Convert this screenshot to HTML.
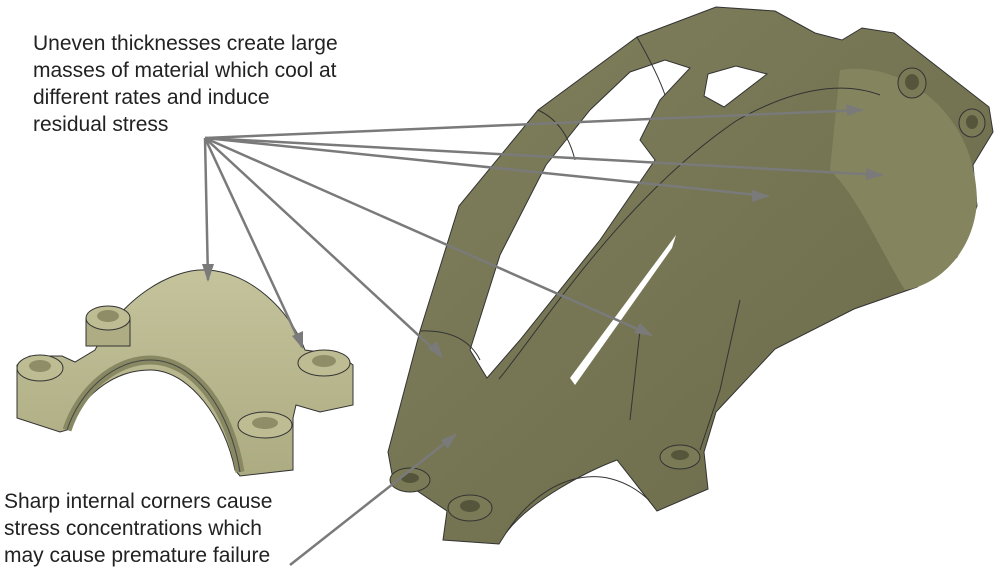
<!DOCTYPE html>
<html><head><style>
html,body{margin:0;padding:0;background:#fff;width:1000px;height:577px;overflow:hidden}
.t{position:absolute;font-family:"Liberation Sans",sans-serif;font-size:21px;line-height:27px;color:#222}
</style></head><body>
<svg width="1000" height="577" style="position:absolute;left:0;top:0">
<defs>
<linearGradient id="g1" x1="0" y1="0" x2="1" y2="1"><stop offset="0" stop-color="#80805d"/><stop offset="1" stop-color="#6a6a4a"/></linearGradient>
<linearGradient id="g2" x1="0" y1="0" x2="0" y2="1"><stop offset="0" stop-color="#c4c39b"/><stop offset="1" stop-color="#acab82"/></linearGradient>
</defs>
<path d="M388,452 L420,331 L459,206 L538,110 L637,37 L716,7 L775,11 L815,33 L842,40 L862,28 L894,33 L989,107 L993,132 L973,165 L977,206 L957,257 L917,287 L854,309 L775,349 L716,412 L704,452 L708,489 L657,511 L617,460 C590,470 530,500 506,533 L499,544 L443,540 L447,511 L392,474 Z" fill="url(#g1)" stroke="#333" stroke-width="1"/>
<path d="M840,70 C900,60 975,110 977,200 C975,250 940,285 905,290 C880,250 860,200 830,170 Z" fill="#84845f"/>
<path d="M487,378 L470,350 L500,255 L546,165 L590,110 L630,72 L665,60 L690,68 L660,100 L640,140 L655,160 L600,240 L520,340 Z" fill="#fff" stroke="#333"/>
<path d="M704,96 L708,74 L736,66 L767,74 L724,107 Z" fill="#fff" stroke="#333"/>
<path d="M570,378 L676,235 L672,248 L575,385 Z" fill="#fff"/>
<g fill="none" stroke="#333" stroke-width="1">
<path d="M420,331 C450,330 470,340 480,360"/><path d="M538,110 C560,120 570,140 575,160"/><path d="M637,37 C650,60 660,80 665,95"/>
<path d="M499,379 C540,330 620,200 736,121 C790,90 840,80 880,95"/>
<path d="M506,533 C540,480 600,455 649,500"/>
<path d="M740,300 L720,390 L700,450"/><path d="M640,330 L630,420"/>
</g>
<ellipse cx="410" cy="480" rx="20" ry="12" fill="#7a7a57" stroke="#333"/><ellipse cx="410" cy="478" rx="9" ry="5" fill="#55553b"/>
<ellipse cx="470" cy="508" rx="22" ry="13" fill="#7a7a57" stroke="#333"/><ellipse cx="470" cy="506" rx="10" ry="6" fill="#55553b"/>
<ellipse cx="680" cy="457" rx="20" ry="12" fill="#7a7a57" stroke="#333"/><ellipse cx="680" cy="455" rx="9" ry="5" fill="#55553b"/>
<ellipse cx="912" cy="83" rx="14" ry="15" fill="#7a7a57" stroke="#333"/><ellipse cx="912" cy="82" rx="7" ry="8" fill="#55553b"/>
<ellipse cx="972" cy="123" rx="13" ry="14" fill="#7a7a57" stroke="#333"/><ellipse cx="972" cy="122" rx="6" ry="7" fill="#55553b"/>
<path d="M17,365 L30,356 L62,356 L75,362 L95,350 C120,300 170,268 207,270 C250,272 290,310 305,350 L340,355 L353,365 L353,405 L320,412 L296,405 L293,418 L293,470 L240,476 L235,470 C225,420 190,370 150,370 C110,370 80,400 67,430 L60,432 L17,418 Z" fill="url(#g2)" stroke="#333"/>
<path d="M67,430 C80,390 115,360 150,360 C195,360 230,410 240,472" fill="none" stroke="#888863" stroke-width="9"/>
<path d="M67,430 C80,390 115,360 150,360 C195,360 230,410 240,472" fill="none" stroke="#444" stroke-width="1"/>
<rect x="86" y="318" width="44" height="28" fill="#adac83" stroke="#333"/>
<ellipse cx="108" cy="318" rx="22" ry="12" fill="#bdbc92" stroke="#333"/><ellipse cx="108" cy="316" rx="11" ry="6" fill="#8e8d67"/>
<ellipse cx="40" cy="368" rx="23" ry="13" fill="#bdbc92" stroke="#333"/><ellipse cx="40" cy="366" rx="11" ry="6" fill="#8e8d67"/>
<ellipse cx="324" cy="363" rx="26" ry="13" fill="#bdbc92" stroke="#333"/><ellipse cx="324" cy="361" rx="12" ry="6" fill="#8e8d67"/>
<ellipse cx="265" cy="425" rx="27" ry="13" fill="#bdbc92" stroke="#333"/><ellipse cx="265" cy="423" rx="13" ry="6" fill="#8e8d67"/>
<g stroke="#7a7a7a" stroke-width="2.5" fill="#7a7a7a">
<line x1="205" y1="138" x2="862" y2="110"/><line x1="205" y1="138" x2="882" y2="175"/><line x1="205" y1="138" x2="768" y2="196"/><line x1="205" y1="138" x2="651" y2="335"/><line x1="205" y1="138" x2="442" y2="357"/><line x1="205" y1="138" x2="302" y2="347"/><line x1="205" y1="138" x2="208" y2="280"/><line x1="290" y1="565" x2="455" y2="435"/>
</g>
<g fill="#7a7a7a">
<polygon points="864,110 846,104 847,116"/><polygon points="884,175 866,168 866,180"/><polygon points="770,196 752,190 752,202"/><polygon points="653,336 640,323 634,333"/><polygon points="443,358 437,341 428,349"/><polygon points="303,349 303,331 292,336"/><polygon points="208,282 202,264 214,264"/><polygon points="457,433 441,440 448,449"/>
</g>
</svg>
<div class="t" style="left:33px;top:30px">Uneven thicknesses create large<br>masses of material which cool at<br>different rates and induce<br>residual stress</div>
<div class="t" style="left:4px;top:488px">Sharp internal corners cause<br>stress concentrations which<br>may cause premature failure</div>
</body></html>
